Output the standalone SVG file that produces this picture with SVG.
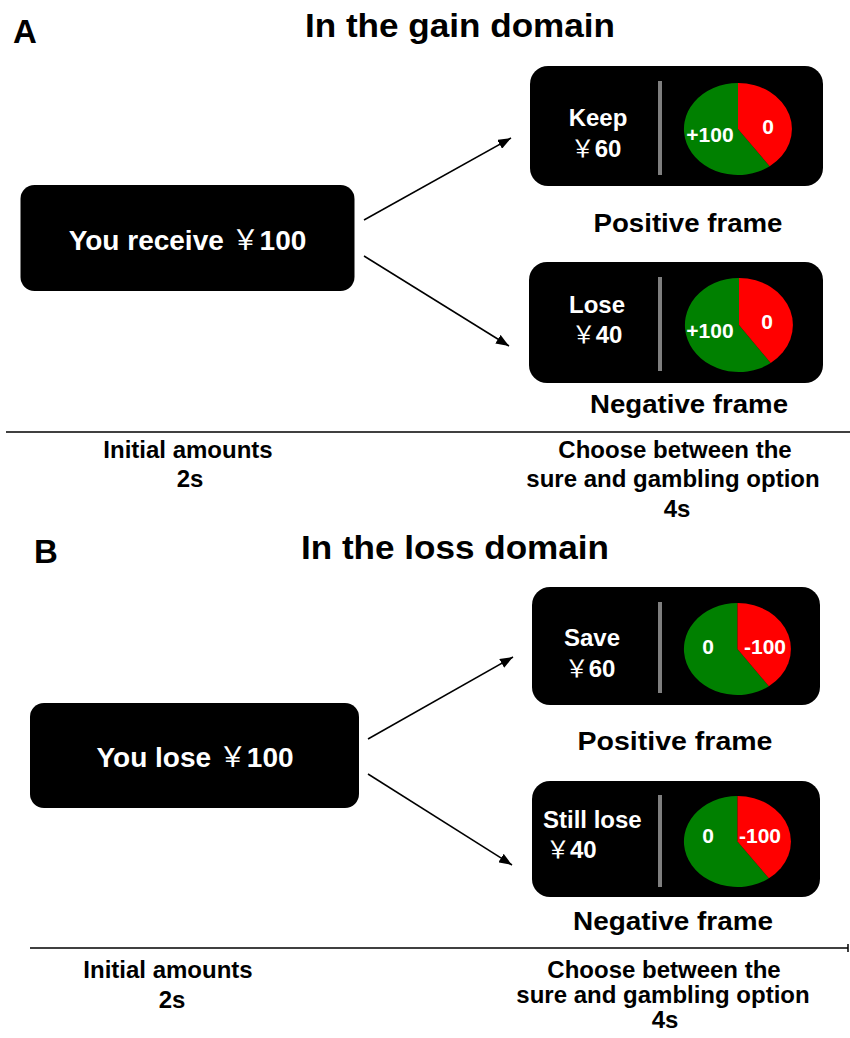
<svg xmlns="http://www.w3.org/2000/svg" width="850" height="1038" viewBox="0 0 850 1038">
<style>
text{font-family:"Liberation Sans",Arial,"Noto Sans CJK SC",sans-serif;font-weight:bold;}
.title{font-size:34px;fill:#000;}
.panel{font-size:33px;fill:#000;}
.box{fill:#000;}
.big{font-size:28px;fill:#fff;text-anchor:middle;}
.lab{font-size:24px;fill:#fff;}
.mid{text-anchor:middle;}
.pie{font-size:21px;fill:#fff;text-anchor:middle;}
.frame{font-size:25px;fill:#000;text-anchor:middle;}
.tl{font-size:24px;fill:#000;text-anchor:middle;}
.yen{font-family:"Noto Sans CJK SC",sans-serif;font-weight:normal;}
.div{stroke:#7f7f7f;stroke-width:4;}
.green{fill:#008000;}
.red{fill:#ff0000;}
.conn{stroke:#000;stroke-width:1.5;fill:none;}
.axis{stroke:#000;stroke-width:1.5;}
</style>
<defs>
<marker id="arr" markerUnits="userSpaceOnUse" markerWidth="14" markerHeight="10" refX="13" refY="5" orient="auto">
<path d="M0,0 L13,5 L0,10 Z" fill="#000"/>
</marker>
</defs>

<g id="panelA">
<text class="panel" x="13" y="43">A</text>
<text class="title" x="305" y="37" textLength="310" lengthAdjust="spacingAndGlyphs">In the gain domain</text>
</g>

<g id="nodeA-initial">
<rect class="box" x="20.5" y="185" width="334" height="106" rx="14"/>
<text class="big" x="187.5" y="250">You receive <tspan class="yen">￥</tspan>100</text>
</g>

<g id="nodeA-positive">
<rect class="box" x="530" y="66" width="293" height="120" rx="18"/>
<text class="lab mid" x="598" y="126">Keep</text>
<text class="lab mid" x="596" y="157"><tspan class="yen">￥</tspan>60</text>
<line class="div" x1="660" y1="81" x2="660" y2="175"/>
<path class="green" d="M738,129 L769.7,166.2 A54,46 0 1 1 738,83 Z"/>
<path class="red" d="M738,129 L738,83 A54,46 0 0 1 769.7,166.2 Z"/>
<text class="pie" x="710" y="142">+100</text>
<text class="pie" x="768" y="134">0</text>
<text class="frame" x="688" y="232" textLength="189" lengthAdjust="spacingAndGlyphs">Positive frame</text>
</g>

<g id="nodeA-negative">
<rect class="box" x="529" y="262" width="294" height="121" rx="18"/>
<text class="lab mid" x="597" y="313">Lose</text>
<text class="lab mid" x="597" y="343"><tspan class="yen">￥</tspan>40</text>
<line class="div" x1="660" y1="277" x2="660" y2="371"/>
<path class="green" d="M739,325 L770.7,363 A54,47 0 1 1 739,278 Z"/>
<path class="red" d="M739,325 L739,278 A54,47 0 0 1 770.7,363 Z"/>
<text class="pie" x="710" y="338">+100</text>
<text class="pie" x="767" y="329">0</text>
<text class="frame" x="689" y="413" textLength="198" lengthAdjust="spacingAndGlyphs">Negative frame</text>
</g>

<g id="timelineA">
<line class="axis" x1="6" y1="432" x2="850" y2="432"/>
<text class="tl" x="188" y="458">Initial amounts</text>
<text class="tl" x="190" y="487">2s</text>
<text class="tl" x="675" y="458">Choose between the</text>
<text class="tl" x="673" y="487">sure and gambling option</text>
<text class="tl" x="677" y="517">4s</text>
</g>

<g id="panelB">
<text class="panel" x="34" y="563">B</text>
<text class="title" x="301" y="559" textLength="308" lengthAdjust="spacingAndGlyphs">In the loss domain</text>
</g>

<g id="nodeB-initial">
<rect class="box" x="30" y="703" width="329" height="105" rx="14"/>
<text class="big" x="195" y="767">You lose <tspan class="yen">￥</tspan>100</text>
</g>

<g id="nodeB-positive">
<rect class="box" x="532" y="587" width="288" height="118" rx="18"/>
<text class="lab mid" x="592" y="646">Save</text>
<text class="lab mid" x="590" y="677"><tspan class="yen">￥</tspan>60</text>
<line class="div" x1="660" y1="602" x2="660" y2="693"/>
<path class="green" d="M737.5,649 L768.9,686.2 A53.5,46 0 1 1 737.5,603 Z"/>
<path class="red" d="M737.5,649 L737.5,603 A53.5,46 0 0 1 768.9,686.2 Z"/>
<text class="pie" x="708" y="654">0</text>
<text class="pie" x="765" y="654">-100</text>
<text class="frame" x="675" y="750" textLength="195" lengthAdjust="spacingAndGlyphs">Positive frame</text>
</g>

<g id="nodeB-negative">
<rect class="box" x="532" y="781" width="288" height="116" rx="18"/>
<text class="lab" x="543" y="828">Still lose</text>
<text class="lab" x="546" y="858"><tspan class="yen">￥</tspan>40</text>
<line class="div" x1="660" y1="795" x2="660" y2="887"/>
<path class="green" d="M737.5,841.5 L768.9,878.3 A53.5,45.5 0 1 1 737.5,796 Z"/>
<path class="red" d="M737.5,841.5 L737.5,796 A53.5,45.5 0 0 1 768.9,878.3 Z"/>
<text class="pie" x="708" y="843">0</text>
<text class="pie" x="760" y="843">-100</text>
<text class="frame" x="673" y="930" textLength="200" lengthAdjust="spacingAndGlyphs">Negative frame</text>
</g>

<g id="timelineB">
<line class="axis" x1="30" y1="948" x2="848" y2="948"/>
<line class="axis" x1="848" y1="944" x2="848" y2="952"/>
<text class="tl" x="168" y="978">Initial amounts</text>
<text class="tl" x="172" y="1008">2s</text>
<text class="tl" x="664" y="978">Choose between the</text>
<text class="tl" x="663" y="1003">sure and gambling option</text>
<text class="tl" x="665" y="1028">4s</text>
</g>

<g id="connectors">
<line class="conn" x1="364" y1="220" x2="511" y2="138" marker-end="url(#arr)"/>
<line class="conn" x1="364" y1="256" x2="509" y2="346" marker-end="url(#arr)"/>
<line class="conn" x1="368" y1="739" x2="513" y2="657" marker-end="url(#arr)"/>
<line class="conn" x1="368" y1="774" x2="512" y2="865" marker-end="url(#arr)"/>
</g>
</svg>
